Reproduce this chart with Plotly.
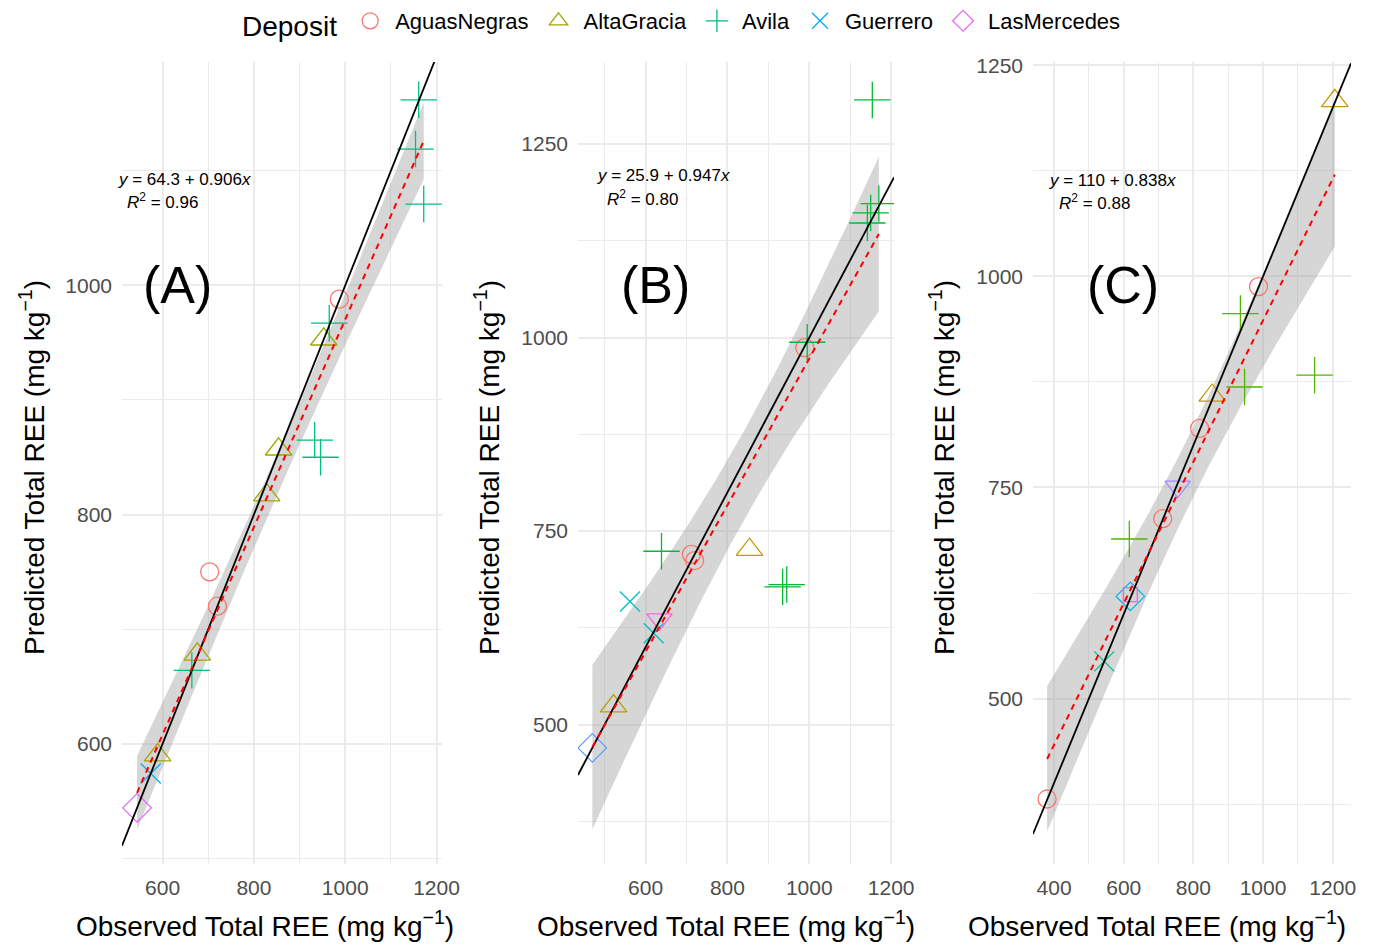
import numpy as np
import plotly.graph_objects as go

# ---------------- data ----------------
deposits = ["AguasNegras", "AltaGracia", "Avila", "Guerrero", "LasMercedes", "Other 6", "Other 7"]

A_obs  = [987, 703, 720, 953, 854, 828, 676, 589, 1161, 1154, 1172, 965, 933, 946, 664, 574, 544]
A_pred = [988, 750, 720, 953, 857, 817, 678, 590, 1162, 1119, 1071, 967, 865, 850, 664, 574, 544]
A_grp  = [0, 0, 0, 1, 1, 1, 1, 1, 2, 2, 2, 2, 2, 2, 2, 3, 4]

B_obs  = [989, 712, 720, 522, 854, 1154, 1170, 1150, 1142, 995, 639, 935, 945, 562, 620, 470, 634]
B_pred = [987, 720, 712, 524, 726, 1307, 1173, 1161, 1148, 994, 724, 678, 681, 659, 618, 470, 636]
B_grp  = [0, 0, 0, 1, 1, 2, 2, 2, 2, 2, 2, 2, 2, 3, 3, 4, 5]

C_obs  = [987, 818, 712, 380, 1206, 854, 935, 947, 1148, 616, 544, 619, 755, 619]
C_pred = [988, 820, 713, 381, 1208, 859, 956, 869, 883, 689, 544, 621, 751, 623]
C_grp  = [0, 0, 0, 0, 1, 1, 2, 2, 2, 2, 3, 4, 5, 6]

fit_intercept = [64.3, 25.9, 110.0]
fit_slope     = [0.906, 0.947, 0.838]
r2_values     = ["0.96", "0.80", "0.88"]
panel_labels  = ["(A)", "(B)", "(C)"]
t_crit        = {15: 2.131, 13: 2.160, 12: 2.179}

x_ticks = [[600, 800, 1000, 1200], [600, 800, 1000, 1200], [400, 600, 800, 1000, 1200]]
y_ticks = [[600, 800, 1000], [500, 750, 1000, 1250], [500, 750, 1000, 1250]]
x_minor = [100, 100, 100]
y_minor = [100, 125, 125]

# ggplot hue palettes (5, 6, 7 levels)
palettes = [
    ["#F8766D", "#A3A500", "#00BF7D", "#00B0F6", "#E76BF3"],
    ["#F8766D", "#B79F00", "#00BA38", "#00BFC4", "#619CFF", "#F564E3"],
    ["#F8766D", "#C49A00", "#53B400", "#00C094", "#00B6EB", "#A58AFF", "#FB61D7"],
]
symbols = ["circle-open", "triangle-up-open", "cross-thin-open", "x-thin-open",
           "diamond-open", "triangle-down-open", "square-open"]
sym_size = [18, 23, 26, 20, 22, 22, 14]

# ---------------- layout geometry (px) ----------------
W, H = 1374, 945
panel_px = [(122, 442), (578, 894), (1033, 1351)]
panel_top, panel_bot = 62, 864
x_ranges = [[511, 1212], [435, 1207], [339.5, 1252.5]]
y_ranges = [[495, 1195], [320, 1356], [304, 1254]]

def fx(px):
    return px / W

def fy(py):
    return 1 - py / H

fig = go.Figure()

panels = [(A_obs, A_pred, A_grp), (B_obs, B_pred, B_grp), (C_obs, C_pred, C_grp)]

for i, (obs, pred, grp) in enumerate(panels):
    xa = "x" if i == 0 else f"x{i+1}"
    ya = "y" if i == 0 else f"y{i+1}"
    obs_a = np.array(obs, float)
    pred_a = np.array(pred, float)
    grp_a = np.array(grp)
    b0, b1 = fit_intercept[i], fit_slope[i]
    n = len(obs_a)
    resid = pred_a - (b0 + b1 * obs_a)
    s = np.sqrt(np.sum(resid ** 2) / (n - 2))
    xbar = obs_a.mean()
    sxx = np.sum((obs_a - xbar) ** 2)
    xs = np.linspace(obs_a.min(), obs_a.max(), 80)
    yfit = b0 + b1 * xs
    se = s * np.sqrt(1 / n + (xs - xbar) ** 2 / sxx)
    t = t_crit[n - 2]
    up, lo = yfit + t * se, yfit - t * se

    # confidence ribbon
    fig.add_trace(go.Scatter(
        x=np.concatenate([xs, xs[::-1]]), y=np.concatenate([up, lo[::-1]]),
        fill="toself", fillcolor="rgba(153,153,153,0.4)", line=dict(width=0),
        mode="lines", showlegend=False, hoverinfo="skip", xaxis=xa, yaxis=ya))

    # points
    pal = palettes[i]
    for g in range(len(pal)):
        m = grp_a == g
        if not m.any():
            continue
        fig.add_trace(go.Scatter(
            x=obs_a[m], y=pred_a[m], mode="markers", name=deposits[g],
            marker=dict(symbol=symbols[g], size=sym_size[g], color=pal[g],
                        line=dict(width=1.3, color=pal[g])),
            showlegend=(i == 0), legendgroup=deposits[g],
            xaxis=xa, yaxis=ya))

    # 1:1 line
    xr = x_ranges[i]
    fig.add_trace(go.Scatter(x=xr, y=xr, mode="lines",
                             line=dict(color="black", width=1.8),
                             showlegend=False, hoverinfo="skip", xaxis=xa, yaxis=ya))
    # fitted line
    fig.add_trace(go.Scatter(x=xs, y=yfit, mode="lines",
                             line=dict(color="#FF0000", width=2, dash="6px,5px"),
                             showlegend=False, hoverinfo="skip", xaxis=xa, yaxis=ya))

axis_common = dict(showline=False, zeroline=False, ticks="", gridcolor="#EBEBEB", gridwidth=1.6,
                   tickfont=dict(family="Liberation Sans", size=21, color="#4D4D4D"),
                   ticklabelstandoff=9, automargin=False)

layout_axes = {}
for i in range(3):
    k = "" if i == 0 else str(i + 1)
    x0, x1 = panel_px[i]
    layout_axes["xaxis" + k] = dict(
        axis_common, domain=[fx(x0), fx(x1)], range=x_ranges[i],
        tickvals=x_ticks[i], anchor="y" + k,
        minor=dict(showgrid=True, gridcolor="#EBEBEB", gridwidth=1, dtick=x_minor[i], tick0=0))
    layout_axes["yaxis" + k] = dict(
        axis_common, domain=[fy(panel_bot), fy(panel_top)], range=y_ranges[i],
        tickvals=y_ticks[i], anchor="x" + k,
        minor=dict(showgrid=True, gridcolor="#EBEBEB", gridwidth=1, dtick=y_minor[i], tick0=0))

annotations = []
eq_pos = [(116, 179), (595, 176), (1047, 180)]
r2_pos = [(125, 201), (605, 198), (1057, 202)]
lab_pos = [(178, 285), (655, 285), (1123, 285)]
ytitle_x = [32, 487, 942]
xtitle_x = [265, 726, 1157]
for i in range(3):
    annotations.append(dict(
        text=f"<i>y</i> = {fit_intercept[i]:g} + {fit_slope[i]:g}<i>x</i>",
        x=fx(eq_pos[i][0]), y=fy(eq_pos[i][1]), xref="paper", yref="paper",
        xanchor="left", yanchor="middle", showarrow=False,
        font=dict(family="Liberation Sans", size=17, color="black")))
    annotations.append(dict(
        text=f"<i>R</i><sup>2</sup> = {r2_values[i]}",
        x=fx(r2_pos[i][0]), y=fy(r2_pos[i][1]), xref="paper", yref="paper",
        xanchor="left", yanchor="middle", showarrow=False,
        font=dict(family="Liberation Sans", size=17, color="black")))
    annotations.append(dict(
        text=panel_labels[i], x=fx(lab_pos[i][0]), y=fy(lab_pos[i][1]),
        xref="paper", yref="paper", xanchor="center", yanchor="middle", showarrow=False,
        font=dict(family="Liberation Sans", size=52, color="black")))
    annotations.append(dict(
        text="Predicted Total REE (mg kg<sup>−1</sup>)", textangle=-90,
        x=fx(ytitle_x[i]), y=fy(468), xref="paper", yref="paper",
        xanchor="center", yanchor="middle", showarrow=False,
        font=dict(family="Liberation Sans", size=28, color="black")))
    annotations.append(dict(
        text="Observed Total REE (mg kg<sup>−1</sup>)",
        x=fx(xtitle_x[i]), y=fy(924), xref="paper", yref="paper",
        xanchor="center", yanchor="middle", showarrow=False,
        font=dict(family="Liberation Sans", size=28, color="black")))

fig.update_layout(
    width=W, height=H, margin=dict(l=0, r=0, t=0, b=0, pad=0, autoexpand=False),
    plot_bgcolor="white", paper_bgcolor="white",
    annotations=annotations,
    legend=dict(orientation="h", x=fx(240), y=fy(0), xanchor="left", yanchor="top",
                title=dict(text="Deposit", side="left",
                           font=dict(family="Liberation Sans", size=28, color="black")),
                font=dict(family="Liberation Sans", size=22, color="black"),
                itemsizing="trace", itemwidth=40, tracegroupgap=0),
    **layout_axes,
)

fig.write_html("out.html", config={"displayModeBar": False},
               post_script="document.body.style.margin='0';document.body.style.overflow='hidden';")
